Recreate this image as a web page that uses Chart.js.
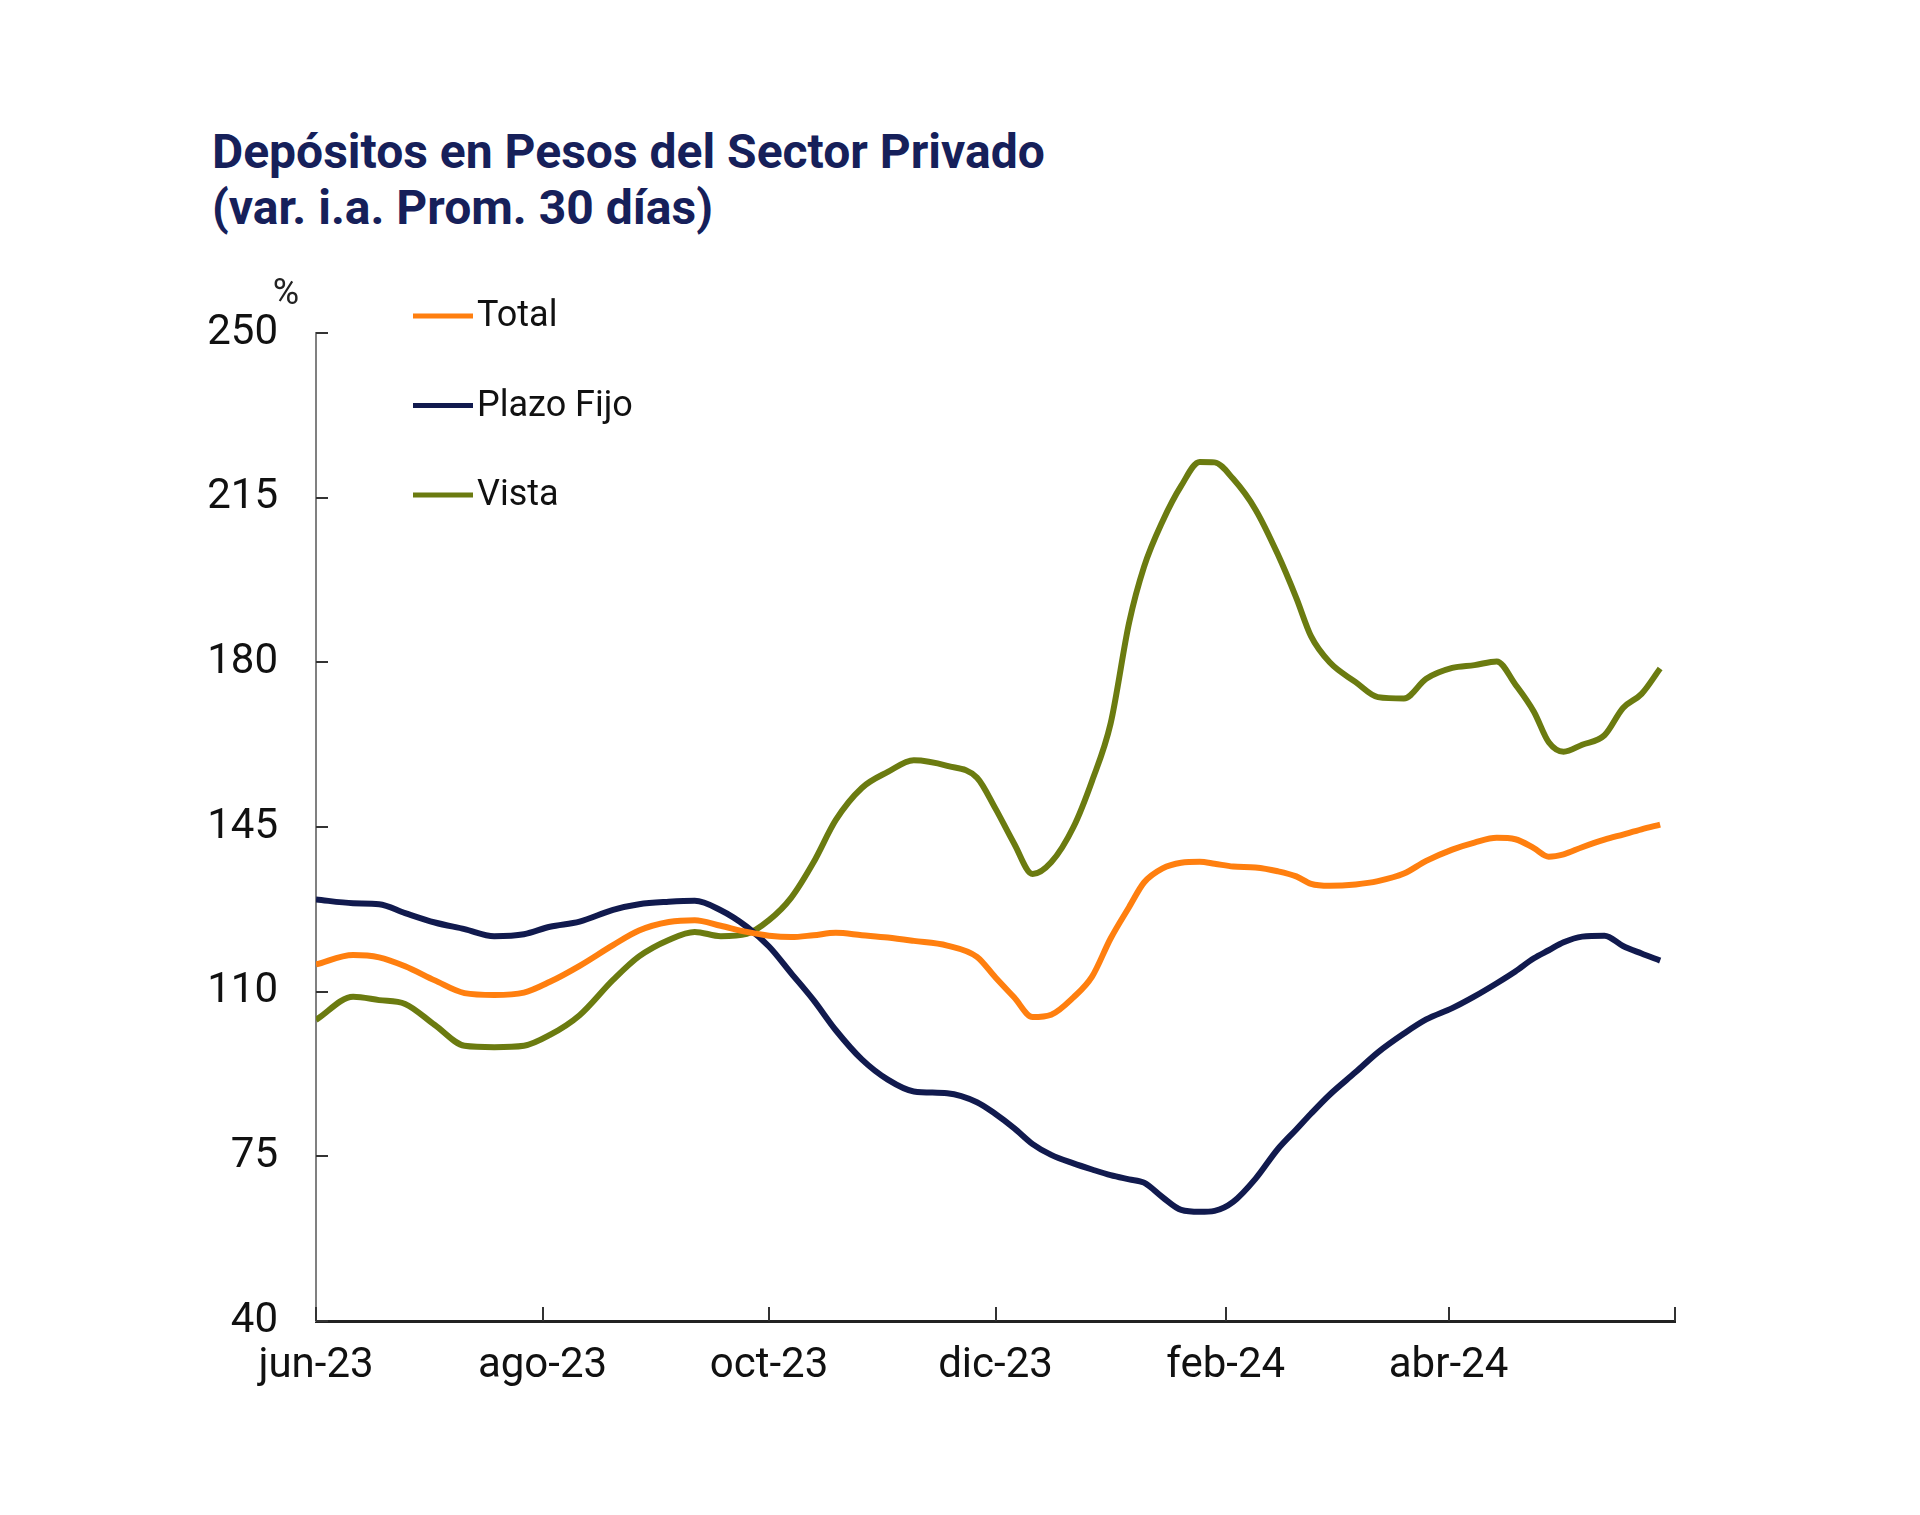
<!DOCTYPE html>
<html>
<head>
<meta charset="utf-8">
<script src="https://cdn.jsdelivr.net/npm/chart.js@4.4.1/dist/chart.umd.min.js"></script>
<style>
  html, body { margin: 0; padding: 0; background: #fff; }
  #wrap { position: relative; width: 1920px; height: 1515px; }
  #title {
    position: absolute; left: 212px; top: 124px;
    font-family: Roboto, sans-serif; font-weight: bold; font-size: 48px;
    line-height: 56px; color: #16205a; white-space: nowrap;
  }
  canvas { position: absolute; left: 0; top: 0; }
</style>
</head>
<body>
<div id="wrap">
  <div id="title">Depósitos en Pesos del Sector Privado<br>(var. i.a. Prom. 30 días)</div>
  <canvas id="chart" width="1920" height="1515"></canvas>
</div>
<script>
// días desde el 1-jun-2023
const days = [0, 10, 17, 24, 32, 40, 48, 56, 63, 71, 80, 87, 95, 102, 109, 116, 122, 128, 134, 140,
  147, 154, 161, 170, 178, 183, 188, 193, 198, 204, 209, 214, 219, 223, 228, 233, 238, 242, 247, 253,
  259, 264, 268, 273, 280, 286, 293, 299, 306, 312, 318, 323, 328, 332, 336, 341, 347, 352, 357, 362];

const total = [115.8, 117.8, 117.3, 115.4, 112.4, 109.7, 109.3, 109.8, 112.1, 115.5, 119.9, 123, 124.8, 125.2, 124, 122.7, 121.9, 121.6, 122, 122.5,
  122, 121.5, 120.8, 119.8, 117.4, 113, 108.8, 104.6, 105.1, 108.8, 113.2, 121.3, 128, 133.2, 136.2, 137.4, 137.6, 137.2, 136.6, 136.4,
  135.6, 134.5, 132.9, 132.5, 132.8, 133.5, 135.1, 137.8, 140.2, 141.7, 142.7, 142.4, 140.5, 138.7, 139.2, 140.7, 142.3, 143.4, 144.5, 145.5];

const plazoFijo = [129.6, 128.8, 128.6, 126.7, 124.7, 123.3, 121.8, 122.2, 123.8, 124.9, 127.4, 128.6, 129.1, 129.3, 127.3, 123.8, 119.6, 113.9, 108.2, 101.8,
  95.6, 91.3, 88.8, 88.4, 86.5, 84, 81, 77.6, 75.3, 73.5, 72.2, 71, 70.1, 69.4, 66.3, 63.6, 63.2, 63.4, 65.3, 70.2,
  76.5, 80.7, 84.1, 88.1, 92.9, 97.1, 101.1, 104.1, 106.5, 109, 111.8, 114.3, 117.1, 118.8, 120.5, 121.7, 121.9, 119.7, 118.1, 116.6];

const vista = [104, 108.9, 108.2, 107.4, 102.9, 98.5, 98.2, 98.5, 100.8, 105, 112.5, 117.5, 121, 122.7, 121.8, 122.3, 125.2, 130, 137.5, 146.5,
  153.3, 156.7, 159.2, 158, 155.5, 148.9, 141.5, 135, 137.5, 145, 154.8, 167, 188.5, 200.3, 210, 217.5, 222.6, 222.5, 219, 212.5,
  203, 193.7, 185.5, 180, 175.8, 172.6, 172.3, 176.5, 178.8, 179.4, 180.2, 175.3, 169.5, 163, 161, 162.5, 164.5, 170.3, 173.3, 178.7];

const tickDays = [0, 61, 122, 183, 245, 305, 366];
const tickLabels = ['jun-23', 'ago-23', 'oct-23', 'dic-23', 'feb-24', 'abr-24', ''];

const COLORS = { total: '#ff7f0f', plazo: '#111a4e', vista: '#6b7b10' };

function series(values) {
  return values.map((v, i) => ({ x: days[i], y: v }));
}

// legend + "%" + inward tick marks drawn by hand
const decorations = {
  id: 'decorations',
  afterDraw(chart) {
    const ctx = chart.ctx;
    const area = chart.chartArea;
    const xs = chart.scales.x, ys = chart.scales.y;
    ctx.save();
    ctx.lineWidth = 2;
    ctx.strokeStyle = '#333';
    ys.ticks.forEach(t => {
      const y = Math.round(ys.getPixelForValue(t.value));
      ctx.beginPath(); ctx.moveTo(area.left, y); ctx.lineTo(area.left + 12, y); ctx.stroke();
    });
    xs.ticks.forEach(t => {
      const x = Math.round(xs.getPixelForValue(t.value));
      ctx.beginPath(); ctx.moveTo(x, area.bottom); ctx.lineTo(x, area.bottom - 14); ctx.stroke();
    });

    ctx.fillStyle = '#222';
    ctx.font = '36px Roboto, sans-serif';
    ctx.textAlign = 'center';
    ctx.textBaseline = 'middle';
    ctx.fillText('%', area.left - 30, area.top - 38);

    ctx.font = '36px Roboto, sans-serif';
    ctx.textAlign = 'left';
    chart.data.datasets.forEach((ds, i) => {
      const y = area.top - 17 + i * 89.5;
      ctx.strokeStyle = ds.borderColor;
      ctx.lineWidth = 5;
      ctx.beginPath(); ctx.moveTo(area.left + 97, y); ctx.lineTo(area.left + 157, y); ctx.stroke();
      ctx.fillStyle = '#111';
      ctx.fillText(ds.label, area.left + 161, y + 1);
    });
    ctx.restore();
  }
};

const lineStyle = { borderWidth: 6, pointRadius: 0, tension: 0.4, cubicInterpolationMode: 'monotone', fill: false };

new Chart(document.getElementById('chart'), {
  type: 'line',
  data: {
    datasets: [
      { label: 'Total', data: series(total), borderColor: COLORS.total, ...lineStyle },
      { label: 'Plazo Fijo', data: series(plazoFijo), borderColor: COLORS.plazo, ...lineStyle },
      { label: 'Vista', data: series(vista), borderColor: COLORS.vista, ...lineStyle }
    ]
  },
  options: {
    responsive: false,
    animation: false,
    layout: { padding: { left: 166, right: 245, top: 333, bottom: 114 } },
    plugins: { legend: { display: false }, tooltip: { enabled: false } },
    scales: {
      x: {
        type: 'linear',
        min: 0,
        max: 366,
        afterBuildTicks: s => { s.ticks = tickDays.map(v => ({ value: v })); },
        afterFit: s => { s.height = 80; },
        grid: { display: false, drawTicks: false },
        border: { display: true, color: '#222', width: 3 },
        ticks: {
          autoSkip: false, maxRotation: 0, padding: 20,
          color: '#111', font: { family: 'Roboto', size: 42 },
          callback: v => tickLabels[tickDays.indexOf(v)]
        }
      },
      y: {
        min: 40,
        max: 250,
        afterBuildTicks: s => { s.ticks = [40, 75, 110, 145, 180, 215, 250].map(v => ({ value: v })); },
        afterFit: s => { s.width = 150; },
        grid: { display: false, drawTicks: false },
        border: { display: true, color: '#808080', width: 2 },
        ticks: { padding: 38, color: '#111', font: { family: 'Roboto', size: 42 } }
      }
    }
  },
  plugins: [decorations]
});
</script>
</body>
</html>
